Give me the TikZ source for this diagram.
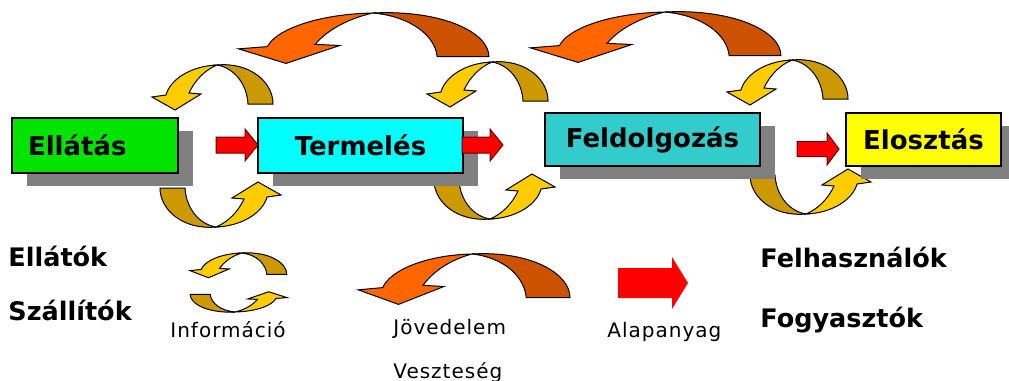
\documentclass[tikz,border=0pt]{standalone}
\usepackage{fontspec}
\setmainfont{DejaVu Sans}
\newfontfamily\keyfont[LetterSpace=5]{DejaVu Sans}
\usetikzlibrary{shadows}
\definecolor{boxgreen}{RGB}{0,228,0}
\definecolor{boxcyan}{RGB}{0,255,255}
\definecolor{boxteal}{RGB}{51,204,204}
\definecolor{boxyellow}{RGB}{255,255,0}
\definecolor{boxshadow}{RGB}{128,128,128}
\definecolor{goldfront}{RGB}{255,204,0}
\definecolor{goldback}{RGB}{204,153,0}
\definecolor{orangefront}{RGB}{255,102,0}
\definecolor{orangeback}{RGB}{204,82,0}

\begin{document}
\begin{tikzpicture}[x=0.5pt,y=-0.5pt] % pixel units, y grows downwards
\tikzset{stagebox/.style={draw=black, line width=0.8pt, inner sep=0pt, minimum height=27.5pt,
  font=\fontsize{13}{15}\selectfont\bfseries,
  drop shadow={shadow xshift=7.5pt, shadow yshift=-6.5pt, fill=boxshadow, opacity=1}}}
\tikzset{sidetext/.style={anchor=base west, inner sep=0pt, font=\fontsize{12.75}{15}\selectfont\bfseries}}
\tikzset{keytext/.style={anchor=base west, inner sep=0pt, font=\keyfont\fontsize{10}{12}\selectfont}}
\tikzset{blockred/.style={fill=red, draw=black!60!red, line width=0.5pt}}
% bent arrow: crossing point at the origin, tail right, head left
\tikzset{pics/bentarrow/.style 2 args={code={
  \filldraw[fill=#2, draw=black, line width=0.5pt] (0,0) .. controls (33,-3) and (56,17) .. (56,39)
    -- (31,39) .. controls (30,20) and (18,3) .. cycle;
  \filldraw[fill=#1, draw=black, line width=0.5pt] (0,0) .. controls (-27,1) and (-47,15) .. (-51,30)
    -- (-65,32) -- (-42,45) -- (-16,29) -- (-28,28) .. controls (-22,15) and (-12,5) .. cycle;
}}}
% block arrow: shaft length, full length, half shaft, half head
\tikzset{pics/blockarrow/.style n args={4}{code={
  \path[blockred] (0,-#3) -- (#1,-#3) -- (#1,-#4) -- (#2,0) -- (#1,#4) -- (#1,#3) -- (0,#3) -- cycle;
}}}

\useasboundingbox[fill=white] (0,0) rectangle (1009,381);

% money flow
\pic[xscale=2.07, yscale=1.12] at (373,13) {bentarrow={orangefront}{orangeback}};
\pic[xscale=2.07, yscale=1.12] at (665,12) {bentarrow={orangefront}{orangeback}};

% information flow
\pic at (217,65) {bentarrow={goldfront}{goldback}};
\pic at (492,62) {bentarrow={goldfront}{goldback}};
\pic at (792,60) {bentarrow={goldfront}{goldback}};
\pic[rotate=180] at (216,227) {bentarrow={goldfront}{goldback}};
\pic[rotate=180] at (490,219) {bentarrow={goldfront}{goldback}};
\pic[rotate=180] at (806,214) {bentarrow={goldfront}{goldback}};

% the chain
\node[stagebox, fill=boxgreen, text width=67pt, inner xsep=8pt, align=left] (ellatas) at (95,145.5) {Ellátás};
\node[stagebox, fill=boxcyan, minimum width=102.5pt] (termeles) at (360.5,145.5) {Termelés};
\node[stagebox, fill=boxteal, minimum width=107.5pt, minimum height=26.5pt] (feldolgozas) at (652.5,139.5) {Feldolgozás};
\node[stagebox, fill=boxyellow, minimum width=77.5pt, minimum height=26.5pt] (elosztas) at (923.5,139.5) {Elosztás};

\pic at (216,145) {blockarrow={29}{42}{8}{16}};
\pic at (462,145) {blockarrow={28}{41}{8}{16}};
\pic at (797,149) {blockarrow={30}{42}{7.5}{16}};

\node[sidetext] (ellatok) at (8,266) {Ellátók};
\node[sidetext] (szallitok) at (8,320) {Szállítók};
\node[sidetext] (felhasznalok) at (760,267) {Felhasználók};
\node[sidetext] (fogyasztok) at (760,327) {Fogyasztók};

% key
\pic[xscale=0.8, yscale=0.55] at (242,253) {bentarrow={goldfront}{goldback}};
\pic[rotate=180, xscale=0.8, yscale=0.45] at (235,312) {bentarrow={goldfront}{goldback}};
\pic[xscale=1.75, yscale=1.12] at (472,254) {bentarrow={orangefront}{orangeback}};
\pic[blockred/.style={fill=red}] at (618,283) {blockarrow={54}{70}{15}{26}};

\node[keytext] (informacio) at (170,337) {Információ};
\node[keytext] (jovedelem) at (393,334) {Jövedelem};
\node[keytext] (veszteseg) at (393,378) {Veszteség};
\node[keytext] (alapanyag) at (607,337) {Alapanyag};
\end{tikzpicture}
\end{document}
